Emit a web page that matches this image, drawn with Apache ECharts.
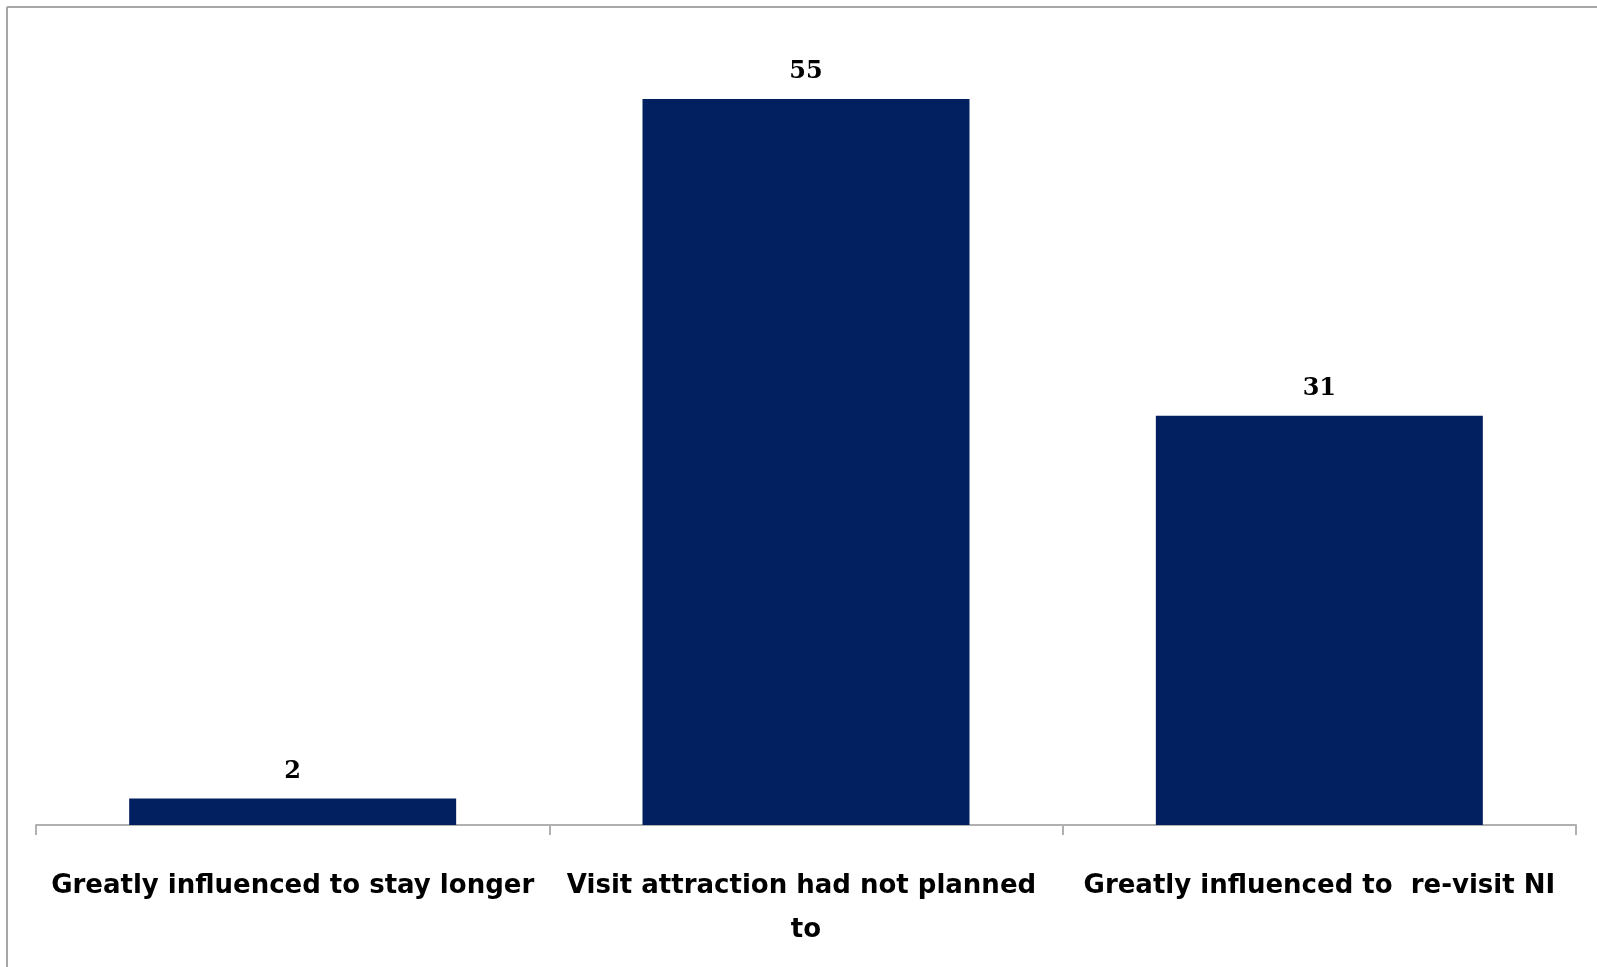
<!DOCTYPE html>
<html>
<head>
<meta charset="utf-8">
<style>
  html, body { margin: 0; padding: 0; background: #ffffff; }
  #chart { width: 1597px; height: 967px; }
</style>
<script src="https://cdn.jsdelivr.net/npm/echarts@6/dist/echarts.min.js"></script>
</head>
<body>
<div id="chart"></div>
<script>
// Survey responses: share of visitors influenced (%)
const categories = [
  'Greatly influenced to stay longer',
  'Visit attraction had not planned to',
  'Greatly influenced to  re-visit NI'
];
const values = [2, 55, 31];

const chart = echarts.init(document.getElementById('chart'), null, { renderer: 'canvas' });

const labelFont = '"DejaVu Sans", Verdana, sans-serif';

chart.setOption({
  backgroundColor: '#ffffff',
  animation: false,
  grid: { left: 36, right: 21, top: 33, bottom: 142, containLabel: false },
  graphic: [
    // outer frame of the chart area (top and left edges)
    { type: 'line', shape: { x1: 7, y1: 7, x2: 1597, y2: 7 }, style: { stroke: '#a6a6a6', lineWidth: 2 } },
    { type: 'line', shape: { x1: 7, y1: 7, x2: 7, y2: 967 }, style: { stroke: '#a6a6a6', lineWidth: 2 } }
  ],
  xAxis: {
    type: 'category',
    data: categories,
    boundaryGap: true,
    axisLine: { show: true, lineStyle: { color: '#b0b0b0', width: 2 } },
    axisTick: { show: true, length: 10, lineStyle: { color: '#b0b0b0', width: 2 } },
    axisLabel: {
      interval: 0,
      margin: 39,
      color: '#000000',
      fontFamily: labelFont,
      fontWeight: 'bold',
      fontSize: 26,
      lineHeight: 44,
      width: 495,
      overflow: 'break'
    }
  },
  yAxis: {
    type: 'value',
    min: 0,
    max: 60,
    show: false,
    splitLine: { show: false }
  },
  series: [{
    type: 'bar',
    data: values,
    barWidth: '63.7%',
    itemStyle: { color: '#022060' },
    label: {
      show: true,
      position: 'top',
      distance: 15,
      color: '#000000',
      fontFamily: '"DejaVu Serif", "Liberation Serif", serif',
      fontWeight: 'bold',
      fontSize: 24
    }
  }]
});
</script>
</body>
</html>
